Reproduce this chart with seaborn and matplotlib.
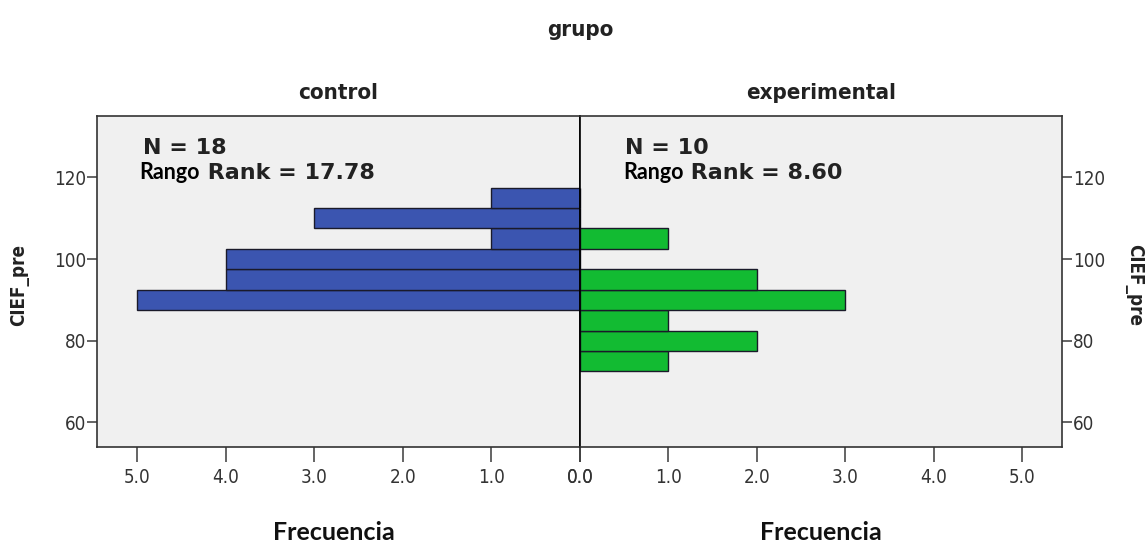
import matplotlib
matplotlib.use("Agg")
import matplotlib.pyplot as plt
import seaborn as sns
import numpy as np

# ---- data ----
groups = ["control", "experimental"]
bin_centers = [75, 80, 85, 90, 95, 100, 105, 110, 115]
control_counts = [0, 0, 0, 5, 4, 4, 1, 3, 1]
experimental_counts = [1, 2, 1, 3, 2, 0, 1, 0, 0]
n_values = [18, 10]
rank_values = ["17.78", "8.60"]
y_ticks = [60, 80, 100, 120]
x_ticks = [0, 1, 2, 3, 4, 5]
x_ticklabels = ["0.0", "1.0", "2.0", "3.0", "4.0", "5.0"]

sns.set_theme(style="white")
plt.rcParams['font.family'] = ['DejaVu Sans']
plt.rcParams['font.stretch'] = 'condensed'

fig = plt.figure(figsize=(11.45, 5.44), dpi=100)
x0, x1, xm = 97 / 1145, 1062 / 1145, 580 / 1145
yb, yt = 1 - 447 / 544, 1 - 116 / 544
axL = fig.add_axes([x0, yb, xm - x0, yt - yb])
axR = fig.add_axes([xm, yb, x1 - xm, yt - yb], sharey=axL)

colors = ["#3b55b0", "#12bb32"]
counts = [control_counts, experimental_counts]
binw = 5
lo = bin_centers[0] - binw / 2
hi = bin_centers[-1] + binw / 2

tick_color = "#3a3a3a"
for ax, cnt, col in zip([axL, axR], counts, colors):
    sns.histplot(y=bin_centers, weights=cnt, binwidth=binw, binrange=(lo, hi),
                 color=col, alpha=1, edgecolor="#1a1a2a", linewidth=1.0, ax=ax)
    ax.set_facecolor("#f0f0f0")
    ax.set_xlim(0, 5.45)
    ax.set_ylim(54, 135)
    ax.set_xticks(x_ticks)
    ax.set_xticklabels(x_ticklabels)
    ax.set_yticks(y_ticks)
    ax.set_xlabel("")
    ax.set_ylabel("")
    for s in ax.spines.values():
        s.set_color("#333333")
        s.set_linewidth(1.2)
    ax.tick_params(axis="x", direction="out", length=11, width=1.1, color=tick_color,
                   labelsize=13.5, labelcolor="#333333", pad=4, bottom=True)
    ax.tick_params(axis="y", direction="out", length=7, width=1.1, color=tick_color,
                   labelsize=13.5, labelcolor="#333333", pad=1)

axL.invert_xaxis()
axL.tick_params(axis="y", left=True, right=False, labelleft=True, labelright=False)
axR.tick_params(axis="y", left=False, right=True, labelleft=False, labelright=True)
axR.spines["left"].set_color("#000000")
axL.spines["right"].set_color("#000000")

# annotations
for ax, n, r in zip([axL, axR], n_values, rank_values):
    ax.text(0.095 if ax is axL else 0.093, 0.903, f"N = {n}", transform=ax.transAxes,
            fontsize=16, fontweight="bold", color="#222222", va="center", ha="left",
            fontstretch="normal")
    t = ax.text(0.088 if ax is axL else 0.089, 0.828, "Rango", transform=ax.transAxes,
                fontsize=15.5, fontweight="bold", color="#000000", va="center", ha="left",
                family=["Lato", "DejaVu Sans"], fontstretch="normal")
    ax.annotate(f" Rank = {r}", xycoords=t, xy=(1, 0.5), va="center", ha="left",
                fontsize=16, fontweight="bold", color="#222222", fontstretch="normal")

# titles
fig.text(xm, 1 - 30 / 544, "grupo", ha="center", va="center", fontsize=16, fontweight="bold",
         color="#222222")
axL.set_title(groups[0], fontsize=16, fontweight="bold", color="#222222", pad=12)
axR.set_title(groups[1], fontsize=16, fontweight="bold", color="#222222", pad=12)

# y labels
fig.text(20 / 1145, 1 - 285 / 544, "CIEF_pre", rotation=90, ha="center", va="center",
         fontsize=13.5, fontweight="bold", color="#222222")
fig.text(1134 / 1145, 1 - 285 / 544, "CIEF_pre", rotation=-90, ha="center", va="center",
         fontsize=13.5, fontweight="bold", color="#222222")

# x labels
for xc in [334 / 1145, 821 / 1145]:
    fig.text(xc, 1 - 533 / 544, "Frecuencia", ha="center", va="center", fontsize=18,
             fontweight="bold", color="#111111", family=["Lato", "DejaVu Sans"],
             fontstretch="normal")

fig.savefig("out.png", dpi=100, facecolor="white")
